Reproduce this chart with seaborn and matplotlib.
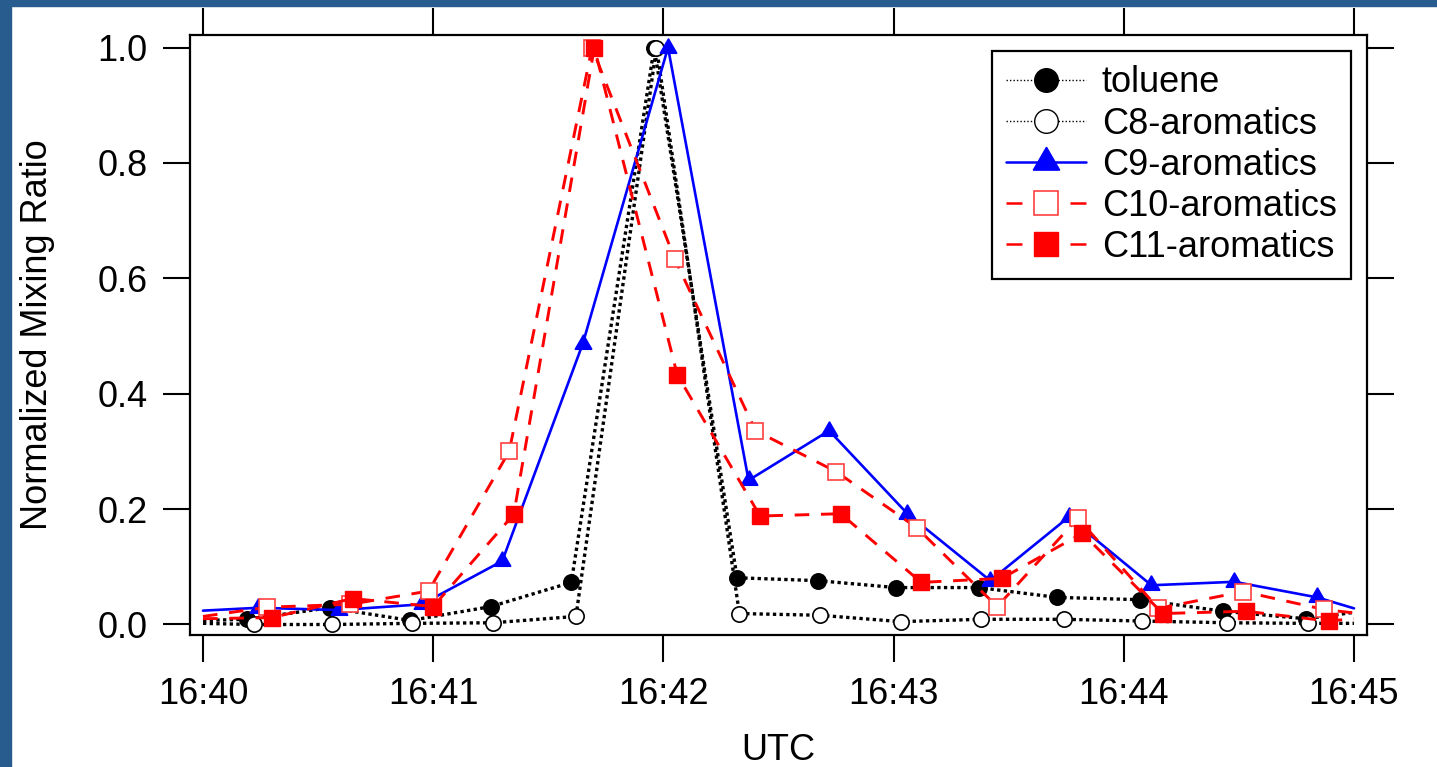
import numpy as np
import pandas as pd
import matplotlib
matplotlib.use("Agg")
import matplotlib.pyplot as plt
from matplotlib.lines import Line2D
from matplotlib.patches import Rectangle
import seaborn as sns

# ---------------- data (minutes after 16:40 UTC, normalized mixing ratio) ----------------
toluene_t = [0.00, 0.19, 0.55, 0.90, 1.25, 1.60, 1.96, 2.32, 2.67, 3.01, 3.37, 3.71, 4.07, 4.43, 4.79, 5.00]
toluene_v = [0.007, 0.009, 0.029, 0.007, 0.031, 0.073, 1.000, 0.081, 0.076, 0.064, 0.064, 0.047, 0.043, 0.023, 0.010, 0.021]

c8_t = [0.00, 0.22, 0.56, 0.91, 1.26, 1.62, 1.97, 2.33, 2.68, 3.03, 3.38, 3.74, 4.08, 4.45, 4.80, 5.00]
c8_v = [0.002, 0.000, 0.000, 0.002, 0.003, 0.014, 1.000, 0.019, 0.016, 0.005, 0.009, 0.009, 0.006, 0.003, 0.002, 0.002]

c9_t = [0.00, 0.24, 0.59, 0.95, 1.30, 1.65, 2.02, 2.37, 2.72, 3.06, 3.42, 3.76, 4.12, 4.48, 4.84, 5.00]
c9_v = [0.024, 0.029, 0.025, 0.035, 0.110, 0.487, 1.000, 0.250, 0.336, 0.192, 0.076, 0.186, 0.068, 0.074, 0.047, 0.028]

c10_t = [0.00, 0.28, 0.64, 0.98, 1.33, 1.69, 2.05, 2.40, 2.75, 3.10, 3.45, 3.80, 4.15, 4.52, 4.87, 5.00]
c10_v = [0.014, 0.030, 0.035, 0.058, 0.300, 1.000, 0.633, 0.336, 0.265, 0.168, 0.031, 0.184, 0.028, 0.057, 0.026, 0.020]

c11_t = [0.00, 0.30, 0.65, 1.00, 1.35, 1.70, 2.06, 2.42, 2.77, 3.12, 3.47, 3.82, 4.17, 4.53, 4.89, 5.00]
c11_v = [0.010, 0.012, 0.045, 0.031, 0.191, 1.000, 0.433, 0.188, 0.192, 0.073, 0.080, 0.158, 0.019, 0.023, 0.006, 0.010]

series_names = ["toluene", "C8-aromatics", "C9-aromatics", "C10-aromatics", "C11-aromatics"]
x_ticks = [0, 1, 2, 3, 4, 5]
x_tick_labels = ["16:40", "16:41", "16:42", "16:43", "16:44", "16:45"]
y_ticks = [0.0, 0.2, 0.4, 0.6, 0.8, 1.0]
y_tick_labels = ["0.0", "0.2", "0.4", "0.6", "0.8", "1.0"]
x_label = "UTC"
y_label = "Normalized Mixing Ratio"

# ---------------- style ----------------
sns.set_style("white")
plt.rcParams["font.family"] = ["Liberation Sans", "DejaVu Sans"]
for k in ["text.color", "axes.labelcolor", "xtick.color", "ytick.color", "axes.edgecolor"]:
    plt.rcParams[k] = "black"
FS = 26

fig = plt.figure(figsize=(14.37, 7.67), dpi=100)
fig.patch.set_facecolor("white")
W, H = 1437, 767
ax = fig.add_axes([190 / W, 1 - 635 / H, (1367 - 190) / W, (635 - 35) / H])
ax.set_facecolor("white")

# blue border strips (left and top)
border = "#285b8e"
fig.patches.append(Rectangle((0, 0), 11 / W, 1, transform=fig.transFigure, color=border, zorder=-10))
fig.patches.append(Rectangle((0, 1 - 6 / H), 1, 6 / H, transform=fig.transFigure, color=border, zorder=-10))

RED = "#ff0000"
BLUE = "#0000ff"
inner = slice(1, -1)
dot = (0, (1, 1.0))
dash = (0, (5.0, 4.0))

sns.lineplot(x=toluene_t, y=toluene_v, ax=ax, sort=False, errorbar=None, legend=False,
             color="black", linewidth=2.4, linestyle=dot, marker="o", markersize=11,
             markevery=inner, markerfacecolor="black", markeredgecolor="black", markeredgewidth=1.2)
sns.lineplot(x=c8_t, y=c8_v, ax=ax, sort=False, errorbar=None, legend=False,
             color="black", linewidth=2.4, linestyle=dot, marker="o", markersize=11,
             markevery=inner, markerfacecolor="white", markeredgecolor="black", markeredgewidth=1.2)
sns.lineplot(x=c9_t, y=c9_v, ax=ax, sort=False, errorbar=None, legend=False,
             color=BLUE, linewidth=1.9, linestyle="-", marker=(3, 0, 0), markersize=14,
             markevery=inner, markerfacecolor=BLUE, markeredgecolor=BLUE, markeredgewidth=1.0)
sns.lineplot(x=c10_t, y=c10_v, ax=ax, sort=False, errorbar=None, legend=False,
             color=RED, linewidth=2.1, linestyle=dash, marker="s", markersize=11.5,
             markevery=inner, markerfacecolor="white", markeredgecolor="#ff4040", markeredgewidth=1.2)
sns.lineplot(x=c11_t, y=c11_v, ax=ax, sort=False, errorbar=None, legend=False,
             color=RED, linewidth=2.1, linestyle=dash, marker="s", markersize=11.5,
             markevery=inner, markerfacecolor=RED, markeredgecolor=RED, markeredgewidth=1.0)

# ---------------- axes ----------------
ax.set_xlim(-0.0565, 5.0565)
ax.set_ylim(-0.0182, 1.0217)
ax.set_xticks(x_ticks)
ax.set_xticklabels(x_tick_labels)
ax.set_yticks(y_ticks)
ax.set_yticklabels(y_tick_labels)
for s in ax.spines.values():
    s.set_visible(True)
    s.set_color("black")
    s.set_linewidth(1.6)
ax.tick_params(axis="both", which="major", direction="out", length=19.5, width=1.5,
               color="black", labelcolor="black", labelsize=FS, pad=11, top=True, right=True,
               labeltop=False, labelright=False, bottom=True, left=True)
ax.grid(False)
ax.set_xlabel(x_label, fontsize=FS, color="black")
ax.set_ylabel(y_label, fontsize=FS, color="black")
ax.xaxis.set_label_coords(0.5, -0.163)
ax.yaxis.set_label_coords(-0.1147, 0.5)

# ---------------- legend ----------------
handles = [
    Line2D([], [], color="black", linewidth=1.0, linestyle=(0, (1, 1.5)), marker="o", markersize=17,
           markerfacecolor="black", markeredgecolor="black"),
    Line2D([], [], color="black", linewidth=1.0, linestyle=(0, (1, 1.5)), marker="o", markersize=17,
           markerfacecolor="white", markeredgecolor="black", markeredgewidth=1.0),
    Line2D([], [], color=BLUE, linewidth=1.8, linestyle="-", marker=(3, 0, 0), markersize=22,
           markerfacecolor=BLUE, markeredgecolor=BLUE),
    Line2D([], [], color=RED, linewidth=1.8, linestyle=(0, (6.4, 19.2)), marker="s", markersize=17,
           markerfacecolor="white", markeredgecolor="#ff4040", markeredgewidth=1.2),
    Line2D([], [], color=RED, linewidth=1.8, linestyle=(0, (6.4, 19.2)), marker="s", markersize=17,
           markerfacecolor=RED, markeredgecolor=RED),
]
leg = ax.legend(handles=handles, labels=series_names, loc="upper right",
                bbox_to_anchor=(0.9864, 0.9733), borderaxespad=0, fontsize=FS,
                frameon=True, fancybox=False, shadow=False, framealpha=1,
                edgecolor="black", numpoints=1, handlelength=2.2, handletextpad=0.44,
                borderpad=0.4, labelspacing=0.17)
leg.get_frame().set_linewidth(1.6)
for t in leg.get_texts():
    t.set_color("black")

fig.savefig("out.png", dpi=100, facecolor=fig.get_facecolor())
